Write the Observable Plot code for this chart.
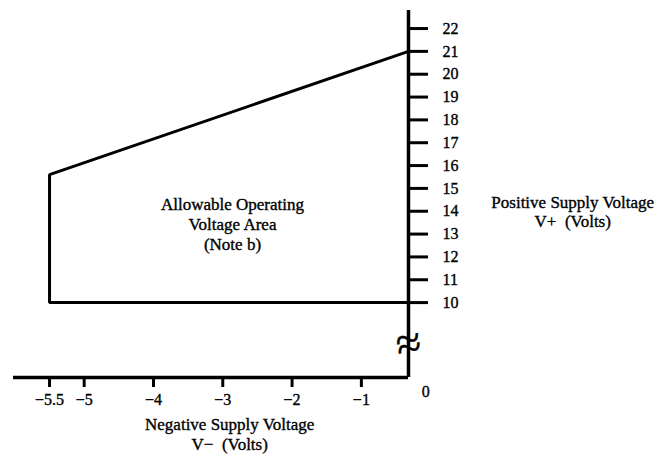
<!DOCTYPE html>
<html>
<head>
<meta charset="utf-8">
<script src="https://cdn.jsdelivr.net/npm/d3@7"></script>
<script src="https://cdn.jsdelivr.net/npm/@observablehq/plot@0.6"></script>
<style>
  html, body { margin: 0; padding: 0; background: #fff; }
  #chart svg text { font-family: "Liberation Serif", "DejaVu Serif", serif; stroke: #000; stroke-width: 0.35px; }
</style>
</head>
<body>
<div id="chart"></div>
<script>
// Tick values
const xTicks = [-5.5, -5, -4, -3, -2, -1];
const yTicks = [10, 11, 12, 13, 14, 15, 16, 17, 18, 19, 20, 21, 22];

// Axis extents (the V+ axis sits at the broken right end of the V− axis)
const vMinusAxisAt = -0.32;     // where the V+ axis crosses the V− scale
const vMinusStart = -6.02;      // left end of the V− axis line
const vPlusBottom = 6.72;       // broken lower end of the V+ axis
const vPlusTop = 22.79;         // top end of the V+ axis
const breakAt = 8.2;            // axis break mark position on V+

// Allowable operating region boundary (V−, V+)
const regionVminus = [vMinusAxisAt, -5.5, -5.5, vMinusAxisAt];
const regionVplus  = [21, 15.6, 10, 10];

const region = regionVminus.map((v, i) => ({vm: v, vp: regionVplus[i]}));
const fmt = d => (d < 0 ? "\u2212" : "") + Math.abs(d);

const chart = Plot.plot({
  width: 660,
  height: 456,
  marginLeft: 13,
  marginRight: 252,
  marginTop: 10,
  marginBottom: 79,
  style: {background: "#fff", color: "#000", fontSize: "16px", fontFamily: "Liberation Serif"},
  x: {domain: [vMinusStart, vMinusAxisAt]},
  y: {domain: [vPlusBottom, vPlusTop]},
  marks: [
    Plot.axisX(xTicks, {anchor: "bottom", tickSize: 10, tickPadding: 6, strokeWidth: 3, tickFormat: fmt, label: null, fontSize: 16}),
    Plot.axisY(yTicks, {anchor: "right", tickSize: 19, tickPadding: 15, strokeWidth: 3, label: null, fontSize: 16}),
    Plot.ruleY([vPlusBottom], {strokeWidth: 3.5}),
    Plot.ruleX([vMinusAxisAt], {strokeWidth: 3.5}),
    Plot.line(region, {x: "vm", y: "vp", stroke: "#000", strokeWidth: 3, strokeLinejoin: "miter"}),
    Plot.text(["\u2248"], {x: vMinusAxisAt, y: breakAt, fontSize: 46, rotate: -10, fill: "#000"}),
    Plot.text(["0"], {x: 0, frameAnchor: "bottom", lineAnchor: "top", dy: 8, dx: -5, fontSize: 16}),
    Plot.text(["Negative Supply Voltage\nV\u2212  (Volts)"], {x: -2.9, frameAnchor: "bottom", lineAnchor: "top", dy: 38, fontSize: 17, lineHeight: 1.18}),
    Plot.text(["Allowable Operating\nVoltage Area\n(Note b)"], {x: -2.86, y: 13.47, fontSize: 17, lineHeight: 1.18}),
    Plot.text(["Positive Supply Voltage\nV+  (Volts)"], {x: 2.05, y: 13.99, fontSize: 17, lineHeight: 1.12})
  ]
});
document.getElementById("chart").appendChild(chart);
</script>
</body>
</html>
